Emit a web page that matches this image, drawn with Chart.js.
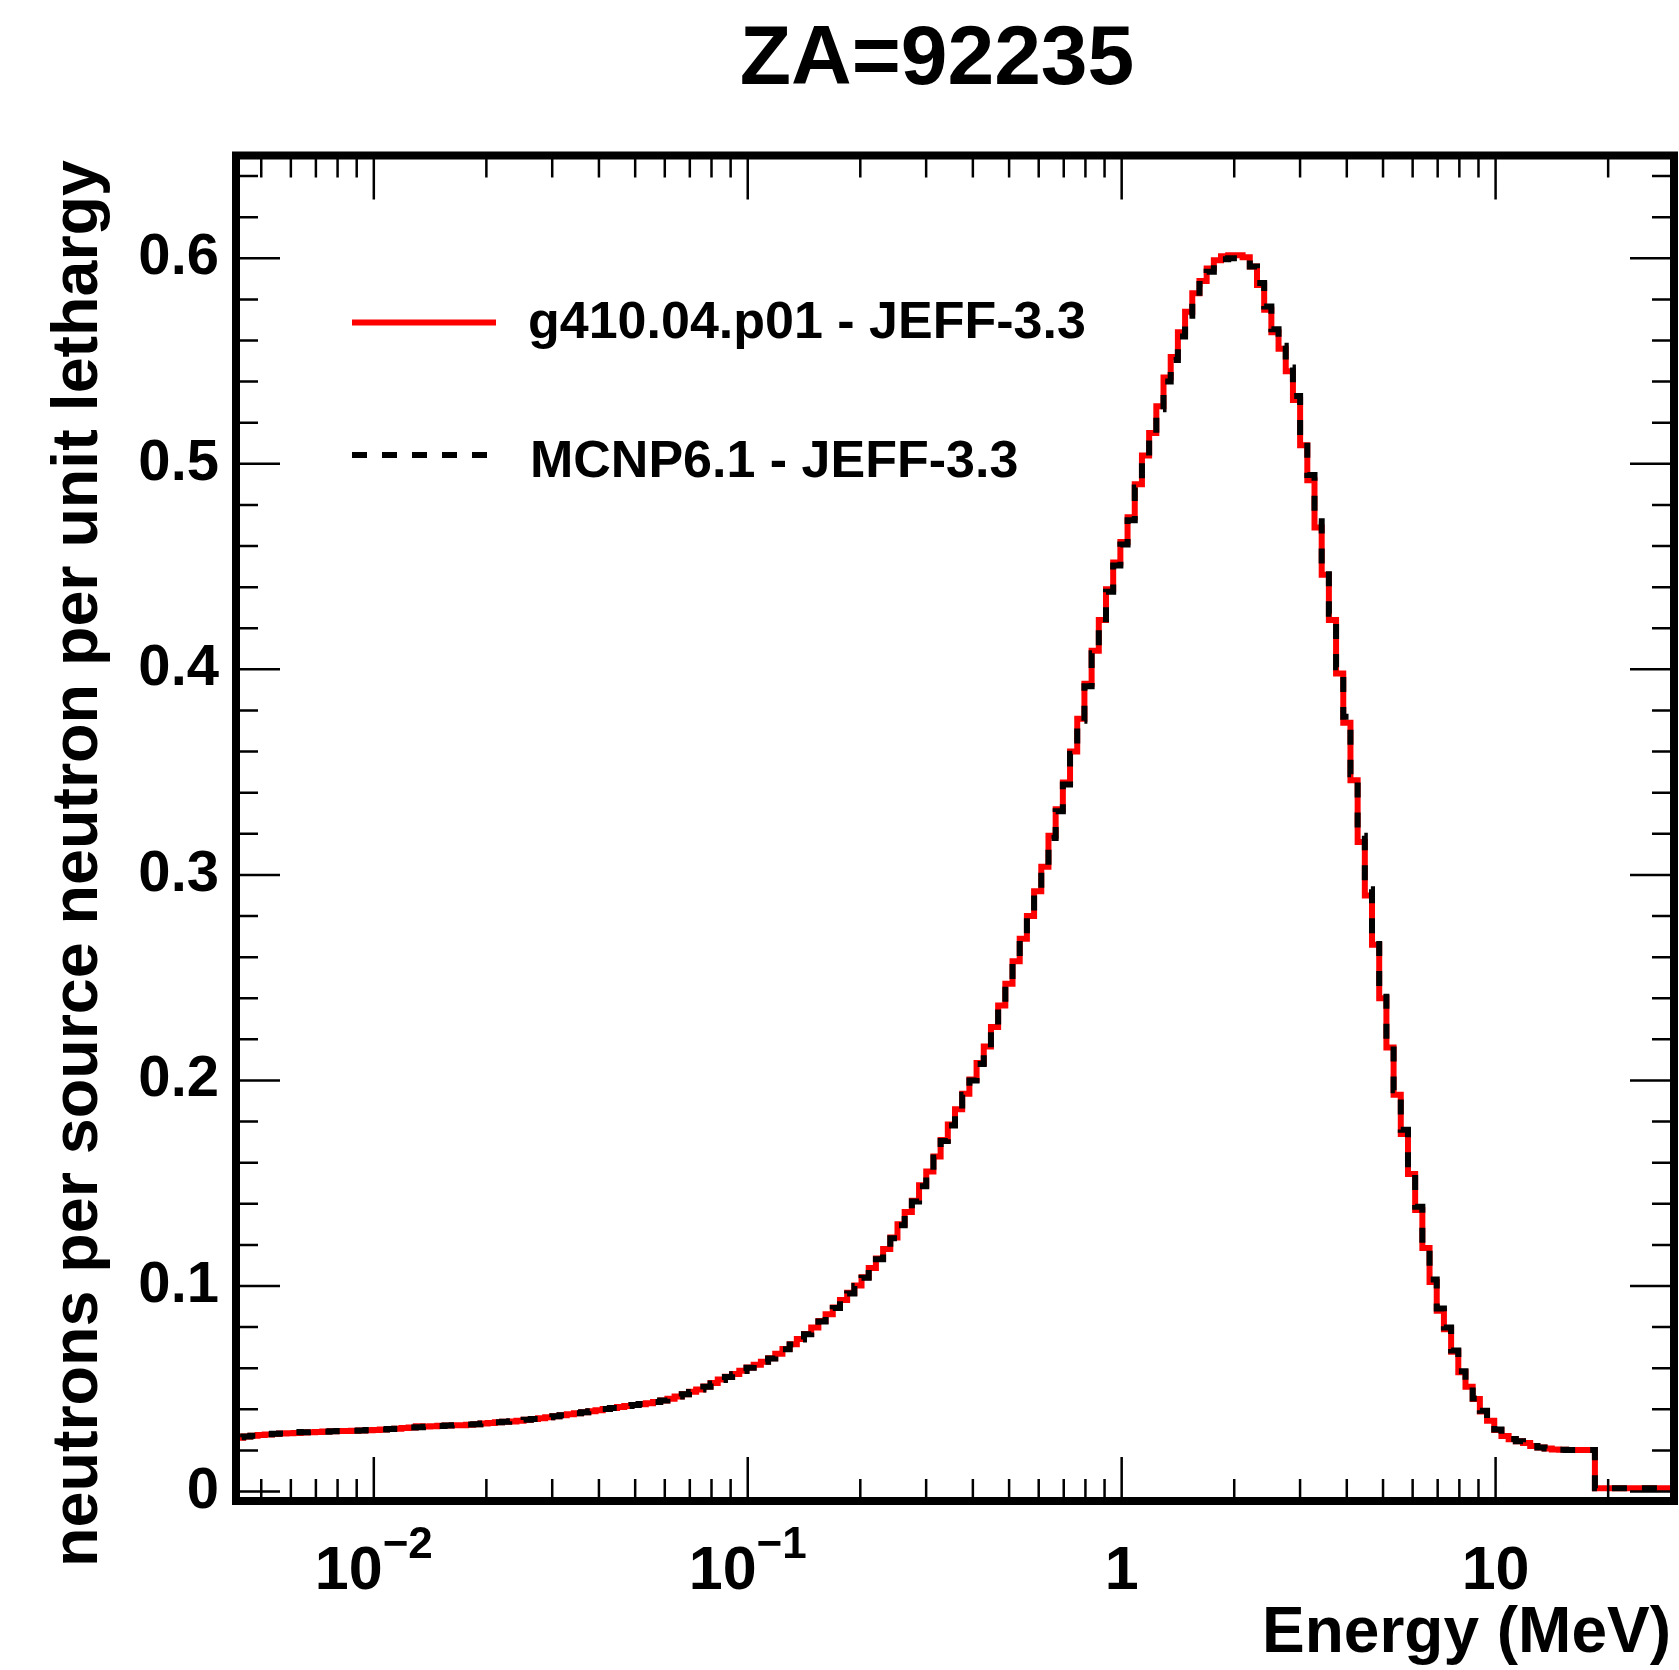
<!DOCTYPE html>
<html>
<head>
<meta charset="utf-8">
<script src="https://cdn.jsdelivr.net/npm/chart.js@4.4.1/dist/chart.umd.min.js"></script>
<style>
html, body { margin: 0; padding: 0; background: #fff; }
#wrap { width: 1679px; height: 1670px; position: relative; }
</style>
</head>
<body>
<div id="wrap"><canvas id="spectrum"></canvas></div>
<script>
// histogram binning: 200 log-uniform bins
var binLow = 0.00428;
var binHigh = 30;
var nBins = 200;

// neutrons per source neutron per unit lethargy, one value per bin
var g4Values = [
  0.0262, 0.0268, 0.0272, 0.0275, 0.0278, 0.0280, 0.0282, 0.0284, 0.0285, 0.0287,
  0.0289, 0.0290, 0.0292, 0.0293, 0.0294, 0.0295, 0.0296, 0.0297, 0.0298, 0.0300,
  0.0302, 0.0304, 0.0306, 0.0309, 0.0312, 0.0318, 0.0316, 0.0318, 0.0320, 0.0321,
  0.0322, 0.0323, 0.0325, 0.0328, 0.0331, 0.0334, 0.0337, 0.0339, 0.0341, 0.0345,
  0.0349, 0.0353, 0.0357, 0.0361, 0.0366, 0.0371, 0.0376, 0.0381, 0.0386, 0.0391,
  0.0396, 0.0401, 0.0406, 0.0411, 0.0416, 0.0421, 0.0425, 0.0430, 0.0436, 0.0443,
  0.0452, 0.0462, 0.0473, 0.0485, 0.0496, 0.0511, 0.0528, 0.0545, 0.0558, 0.0572,
  0.0588, 0.0603, 0.0617, 0.0632, 0.0648, 0.0670, 0.0694, 0.0717, 0.0742, 0.0767,
  0.0798, 0.0830, 0.0862, 0.0896, 0.0932, 0.0967, 0.1003, 0.1043, 0.1088, 0.1134,
  0.1180, 0.1236, 0.1300, 0.1360, 0.1415, 0.1490, 0.1557, 0.1630, 0.1710, 0.1786,
  0.1860, 0.1935, 0.2005, 0.2085, 0.2165, 0.2260, 0.2365, 0.2470, 0.2580, 0.2690,
  0.2800, 0.2920, 0.3040, 0.3190, 0.3320, 0.3450, 0.3600, 0.3760, 0.3930, 0.4090,
  0.4240, 0.4390, 0.4520, 0.4620, 0.4740, 0.4900, 0.5040, 0.5150, 0.5280, 0.5420,
  0.5520, 0.5640, 0.5740, 0.5830, 0.5890, 0.5950, 0.5990, 0.6010, 0.6015, 0.6015,
  0.6005, 0.5960, 0.5870, 0.5750, 0.5640, 0.5560, 0.5450, 0.5310, 0.5090, 0.4920,
  0.4690, 0.4460, 0.4240, 0.3980, 0.3740, 0.3460, 0.3160, 0.2900, 0.2660, 0.2400,
  0.2160, 0.1930, 0.1740, 0.1545, 0.1370, 0.1185, 0.1020, 0.0880, 0.0790, 0.0680,
  0.0580, 0.0510, 0.0450, 0.0390, 0.0345, 0.0300, 0.0270, 0.0255, 0.0245, 0.0236,
  0.0222, 0.0214, 0.0209, 0.0205, 0.0203, 0.0202, 0.0202, 0.0202, 0.0202, 0.0016,
  0.0016, 0.0016, 0.0016, 0.0016, 0.0016, 0.0016, 0.0016, 0.0016, 0.0016, 0.0016
];

var mcnpValues = [
  0.0264, 0.0268, 0.0271, 0.0275, 0.0279, 0.0281, 0.0282, 0.0284, 0.0290, 0.0288,
  0.0289, 0.0290, 0.0291, 0.0293, 0.0294, 0.0295, 0.0296, 0.0297, 0.0299, 0.0301,
  0.0302, 0.0304, 0.0306, 0.0309, 0.0311, 0.0313, 0.0315, 0.0317, 0.0319, 0.0321,
  0.0322, 0.0324, 0.0326, 0.0328, 0.0331, 0.0334, 0.0337, 0.0339, 0.0342, 0.0345,
  0.0349, 0.0353, 0.0357, 0.0361, 0.0366, 0.0371, 0.0376, 0.0381, 0.0386, 0.0391,
  0.0396, 0.0401, 0.0406, 0.0411, 0.0416, 0.0421, 0.0426, 0.0431, 0.0436, 0.0443,
  0.0452, 0.0462, 0.0473, 0.0484, 0.0496, 0.0510, 0.0526, 0.0543, 0.0557, 0.0571,
  0.0587, 0.0602, 0.0616, 0.0631, 0.0647, 0.0668, 0.0692, 0.0715, 0.0740, 0.0765,
  0.0795, 0.0827, 0.0859, 0.0893, 0.0929, 0.0964, 0.1000, 0.1040, 0.1084, 0.1130,
  0.1176, 0.1232, 0.1295, 0.1355, 0.1411, 0.1485, 0.1552, 0.1625, 0.1705, 0.1781,
  0.1855, 0.1930, 0.2000, 0.2080, 0.2160, 0.2255, 0.2358, 0.2463, 0.2573, 0.2683,
  0.2793, 0.2913, 0.3033, 0.3180, 0.3310, 0.3440, 0.3590, 0.3750, 0.3918, 0.4078,
  0.4228, 0.4378, 0.4505, 0.4608, 0.4726, 0.4885, 0.5025, 0.5135, 0.5265, 0.5400,
  0.5505, 0.5620, 0.5720, 0.5810, 0.5875, 0.5935, 0.5975, 0.5995, 0.6000, 0.6000,
  0.5995, 0.5960, 0.5880, 0.5765, 0.5655, 0.5575, 0.5468, 0.5330, 0.5115, 0.4945,
  0.4720, 0.4490, 0.4270, 0.4010, 0.3770, 0.3490, 0.3190, 0.2930, 0.2685, 0.2425,
  0.2182, 0.1952, 0.1760, 0.1563, 0.1385, 0.1200, 0.1032, 0.0890, 0.0798, 0.0686,
  0.0585, 0.0514, 0.0453, 0.0393, 0.0347, 0.0302, 0.0271, 0.0256, 0.0245, 0.0236,
  0.0222, 0.0214, 0.0209, 0.0205, 0.0203, 0.0202, 0.0202, 0.0202, 0.0202, 0.0016,
  0.0016, 0.0016, 0.0016, 0.0016, 0.0016, 0.0016, 0.0016, 0.0016, 0.0016, 0.0016
];

var seriesNames = ['g410.04.p01 - JEFF-3.3', 'MCNP6.1 - JEFF-3.3'];

// axis ticks
var xMajorTicks = [0.01, 0.1, 1, 10];
var xTickBase = ['10', '10', '1', '10'];
var xTickExp = ['\u22122', '\u22121', '', ''];
var xMinorTicks = [0.005, 0.006, 0.007, 0.008, 0.009,
  0.02, 0.03, 0.04, 0.05, 0.06, 0.07, 0.08, 0.09,
  0.2, 0.3, 0.4, 0.5, 0.6, 0.7, 0.8, 0.9,
  2, 3, 4, 5, 6, 7, 8, 9, 20];
var yMajorTicks = [0, 0.1, 0.2, 0.3, 0.4, 0.5, 0.6];
var yTickLabels = ['0', '0.1', '0.2', '0.3', '0.4', '0.5', '0.6'];
var yMinorTicks = [0.02, 0.04, 0.06, 0.08, 0.12, 0.14, 0.16, 0.18,
  0.22, 0.24, 0.26, 0.28, 0.32, 0.34, 0.36, 0.38, 0.42, 0.44, 0.46, 0.48,
  0.52, 0.54, 0.56, 0.58, 0.62, 0.64];

var binEdges = [];
for (var k = 0; k <= nBins; k++) {
  binEdges.push(binLow * Math.pow(binHigh / binLow, k / nBins));
}

// outline of a histogram: both corners of every bin
function histPoints(values) {
  var pts = [{x: binEdges[0], y: 0}];
  values.forEach(function (v, i) {
    pts.push({x: binEdges[i], y: v});
    pts.push({x: binEdges[i + 1], y: v});
  });
  return pts;
}

var FONT = '"Liberation Sans", Arial, Helvetica, sans-serif';

var rootFrame = {
  id: 'rootFrame',
  afterDraw: function (chart) {
    var ctx = chart.ctx;
    var a = chart.chartArea;
    var xs = chart.scales.x;
    var ys = chart.scales.y;
    ctx.save();
    ctx.strokeStyle = '#000';
    ctx.fillStyle = '#000';

    // ticks on all four sides, pointing inwards
    ctx.lineWidth = 2.5;
    ctx.beginPath();
    function xTick(v, len) {
      var px = xs.getPixelForValue(v);
      ctx.moveTo(px, a.bottom); ctx.lineTo(px, a.bottom - len);
      ctx.moveTo(px, a.top); ctx.lineTo(px, a.top + len);
    }
    function yTick(v, len) {
      var py = ys.getPixelForValue(v);
      ctx.moveTo(a.left, py); ctx.lineTo(a.left + len, py);
      ctx.moveTo(a.right, py); ctx.lineTo(a.right - len, py);
    }
    xMajorTicks.forEach(function (v) { xTick(v, 44); });
    xMinorTicks.forEach(function (v) { xTick(v, 22); });
    yMajorTicks.forEach(function (v) { yTick(v, 44); });
    yMinorTicks.forEach(function (v) { yTick(v, 22); });
    ctx.stroke();

    // frame
    ctx.lineWidth = 8;
    ctx.strokeRect(a.left, a.top, a.right - a.left, a.bottom - a.top);

    // x tick labels with exponents
    ctx.textBaseline = 'alphabetic';
    xMajorTicks.forEach(function (v, i) {
      var px = xs.getPixelForValue(v);
      ctx.font = 'bold 61px ' + FONT;
      var wb = ctx.measureText(xTickBase[i]).width;
      ctx.font = 'bold 44px ' + FONT;
      var we = xTickExp[i] ? ctx.measureText(xTickExp[i]).width : 0;
      var x0 = px - (wb + we) / 2;
      ctx.textAlign = 'left';
      ctx.font = 'bold 61px ' + FONT;
      ctx.fillText(xTickBase[i], x0, 1589);
      if (xTickExp[i]) {
        ctx.font = 'bold 44px ' + FONT;
        ctx.fillText(xTickExp[i], x0 + wb, 1558);
      }
    });

    // axis titles
    ctx.font = 'bold 64px ' + FONT;
    ctx.textAlign = 'right';
    ctx.fillText('Energy (MeV)', 1671, 1652);

    ctx.save();
    ctx.translate(97, 160);
    ctx.rotate(-Math.PI / 2);
    ctx.font = 'bold 64.6px ' + FONT;
    ctx.textAlign = 'right';
    ctx.fillText('neutrons per source neutron per unit lethargy', 0, 0);
    ctx.restore();

    // title
    ctx.font = 'bold 84px ' + FONT;
    ctx.textAlign = 'center';
    ctx.fillText('ZA=92235', 937, 84);

    // legend
    ctx.lineWidth = 6;
    ctx.strokeStyle = '#ff0000';
    ctx.beginPath();
    ctx.moveTo(352, 322.5); ctx.lineTo(496, 322.5);
    ctx.stroke();
    ctx.strokeStyle = '#000';
    ctx.setLineDash([15, 15]);
    ctx.beginPath();
    ctx.moveTo(352, 455); ctx.lineTo(490, 455);
    ctx.stroke();
    ctx.setLineDash([]);
    ctx.font = 'bold 52px ' + FONT;
    ctx.textAlign = 'left';
    ctx.fillText(seriesNames[0], 528, 338);
    ctx.fillText(seriesNames[1], 530, 477);

    ctx.restore();
  }
};

new Chart(document.getElementById('spectrum').getContext('2d'), {
  type: 'line',
  data: {
    datasets: [{
      label: seriesNames[0],
      data: histPoints(g4Values),
      borderColor: '#ff0000',
      borderWidth: 6,
      pointRadius: 0,
      tension: 0,
      order: 2
    }, {
      label: seriesNames[1],
      data: histPoints(mcnpValues),
      borderColor: '#000000',
      borderWidth: 6,
      borderDash: [15, 15],
      pointRadius: 0,
      tension: 0,
      order: 1
    }]
  },
  options: {
    responsive: true,
    maintainAspectRatio: false,
    animation: false,
    devicePixelRatio: 1,
    layout: { padding: { top: 155.5, right: 5, bottom: 0, left: 0 } },
    plugins: {
      legend: { display: false },
      tooltip: { enabled: false },
      title: { display: false }
    },
    scales: {
      x: {
        type: 'logarithmic',
        min: binLow,
        max: binHigh,
        grid: { display: false, drawTicks: false },
        border: { display: false },
        ticks: { display: false },
        afterFit: function (s) { s.height = 169; }
      },
      y: {
        type: 'linear',
        min: -0.0046,
        max: 0.65,
        grid: { display: false, drawTicks: false },
        border: { display: false },
        afterBuildTicks: function (s) {
          s.ticks = yMajorTicks.map(function (v) { return {value: v}; });
        },
        ticks: {
          padding: 17,
          color: '#000',
          font: { family: FONT, size: 58, weight: 'bold' },
          callback: function (v) {
            var idx = yMajorTicks.indexOf(v);
            return idx >= 0 ? yTickLabels[idx] : '';
          }
        },
        afterFit: function (s) { s.width = 236; }
      }
    }
  },
  plugins: [rootFrame]
});
</script>
</body>
</html>
